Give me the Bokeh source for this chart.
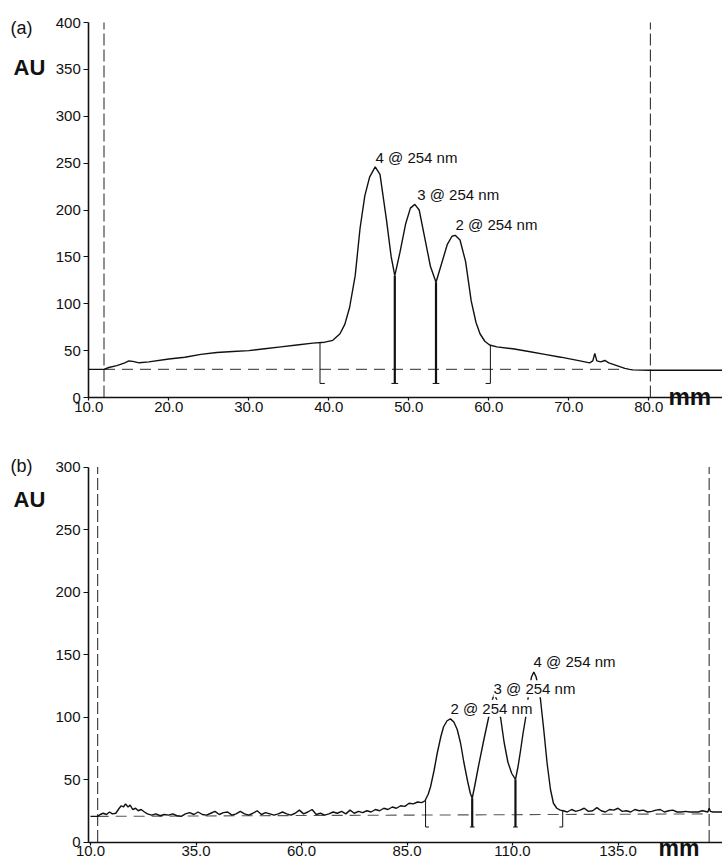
from bokeh.plotting import figure
from bokeh.models import Label, FixedTicker, NumeralTickFormatter, Range1d, LinearAxis
from bokeh.layouts import column
from bokeh.embed import file_html
from bokeh.resources import INLINE

FONT = "Liberation Sans"

# ---------------- Panel (a) data ----------------
a_mm = [10.0, 11.9, 12.5, 13.5, 14.5, 15.0, 15.5, 16.3, 17.5, 20, 22, 24, 26, 28, 30, 32, 34, 36, 38,
        39.5, 40.5, 41.4, 42.0, 42.6, 43.3, 43.9, 44.5, 45.1, 45.8, 46.4, 47.2, 47.8, 48.25, 48.9,
        49.6, 50.2, 50.75, 51.3, 52.0, 52.7, 53.4, 54.0, 54.8, 55.4, 55.8, 56.4, 57.1, 57.8, 58.4,
        58.9, 59.5, 60.1, 61, 63, 65, 67, 69, 71.4, 72.6, 73.0, 73.25, 73.5, 74.0, 74.5, 75, 76, 77,
        77.6, 78, 80, 89.3]
a_au = [30, 30, 32, 34, 37, 39, 38.5, 37, 38, 41, 43, 46, 48, 49, 50, 52, 54, 56, 58,
        59, 61, 68, 78, 96, 130, 180, 215, 235, 246, 238, 190, 150, 130, 155,
        185, 202, 206, 200, 170, 140, 123, 140, 163, 172, 173, 168, 145, 103, 80,
        68, 60, 56, 54, 52, 49, 46, 43, 39, 37, 39, 47, 39, 38, 39.5, 37, 34, 31,
        30, 29.5, 29, 29]
a_xticks = [10, 20, 30, 40, 50, 60, 70, 80]
a_yticks = [0, 50, 100, 150, 200, 250, 300, 350, 400]
a_markers = [11.9, 80.2]          # dashed vertical event lines
a_base_x = [11.9, 77.0]           # dashed baseline
a_base_y = [30, 30]
a_drop_mm = [38.9, 48.25, 53.4, 60.2]
a_drop_top = [59, 130, 123, 55]
a_drop_foot = ["right", "both", "both", "left"]
a_peak_mm = [45.84, 51.05, 55.84]
a_peak_lab_y = [255.7, 216.2, 184.2]
a_peak_text = ["4 @ 254 nm", "3 @ 254 nm", "2 @ 254 nm"]

# ---------------- Panel (b) data ----------------
b_mm = [10, 11.7, 12.3, 13, 13.8, 14.5, 15.2, 16, 16.8, 17.3, 17.8, 18.3, 18.9, 19.4, 20, 20.7, 21.3,
        22, 22.8, 23.5, 24.5, 25.5, 26.5, 27.5, 28.5, 29.5, 30.5, 31.5, 32.5, 33.5, 34.5, 35.5, 36.5,
        37.5, 38.5, 39.5, 40.5, 41.5, 42.5, 43.5, 44.5, 45.5, 46.5, 47.5, 48.5, 49.5, 50.5, 51.5,
        52.5, 53.5, 54.5, 55.5, 56.5, 57.5, 58.5, 59.5, 60.5, 61.5, 62.5, 63.5, 64.5, 65.5, 66.5,
        67.5, 68.5, 69.5, 70.5, 71.5, 72.5, 73.5, 74.5, 75.5, 76.5, 77.5, 78.5, 79.5, 80.5, 81.5,
        82.5, 83.5, 84.5, 85.5, 86.5, 87.5, 88.5, 89.3, 89.4, 90.0, 90.57, 91.4, 92.16, 93.0,
        93.65, 94.5, 95.3, 96.1, 96.9, 97.7, 98.46, 99.4, 100.0, 100.45, 101.0, 101.9, 103.1,
        104.3, 105.0, 105.7, 106.4, 107.2, 108.0, 108.9, 109.8, 110.7, 111.3, 111.9, 112.5,
        113.1, 113.8, 114.5, 115.05, 115.6, 116.1, 116.6, 117.4, 118.2, 119.0, 119.7, 120.5,
        121.3, 122, 123, 124, 125, 126, 127, 128, 129, 130, 131, 132, 133, 134, 135, 136, 137,
        138, 139, 140, 141, 142, 143, 144, 145, 146, 147, 148, 149, 150, 151, 152, 153, 154, 155,
        156.3, 156.6, 156.9, 157.5, 160.5]
b_au = [20.5, 20.5, 22, 23, 22, 24, 22.5, 23, 27, 29, 28, 30.5, 28, 29.5, 26, 27, 25,
        26, 24, 22.5, 21.5, 22.5, 21, 22, 21.5, 22.5, 21, 20.5, 22.5, 23.5, 22, 24, 22,
        21.5, 23, 24.5, 22, 23.5, 24, 21.5, 22.5, 24.5, 22.5, 21.5, 23, 25, 22, 23.5,
        22.5, 21.5, 22.5, 24, 22.5, 21.5, 23, 25.5, 22.5, 24, 26, 22, 23, 21.5, 22.5,
        24, 23, 24.5, 22.5, 25.5, 23, 24.5, 23.5, 25, 24, 26, 25, 27, 26, 28,
        27, 29, 28.5, 31, 30.5, 32, 31.5, 33, 34, 38, 44, 57, 71, 84,
        92, 97, 98.5, 96, 90, 79, 64, 48, 39, 35, 44, 60, 80,
        99, 112, 118, 113, 99, 80, 64, 55, 50, 60, 73, 87,
        99, 118, 132, 136, 132, 124, 115, 90, 63, 42, 31, 27,
        25.5, 25, 24, 26, 24.5, 25.5, 27, 24.5, 25, 27.5, 25, 24, 26, 25.5, 27, 24.5, 25,
        24, 26, 25, 25.5, 24, 24.5, 25.5, 26, 24, 25, 25.5, 24, 24, 24.5, 24, 24, 24, 25,
        24, 27, 24.5, 24, 24]
b_xticks = [10, 35, 60, 85, 110, 135]
b_yticks = [0, 50, 100, 150, 200, 250, 300]
b_markers = [11.7, 156.6]
b_base_x = [11.7, 156.6]
b_base_y = [20.5, 22.5]
b_drop_mm = [89.4, 100.45, 110.7, 121.9]
b_drop_top = [34, 35, 50, 25]
b_drop_foot = ["right", "both", "both", "left"]
b_peak_mm = [95.3, 105.5, 115.0]
b_peak_lab_y = [107, 122.6, 144.4]
b_peak_text = ["2 @ 254 nm", "3 @ 254 nm", "4 @ 254 nm"]


def make_panel(canvas_h, x_left, x_right, y_top, y_bottom, ax_x, xticks, yticks, ymax,
               mm, au, markers, base_x, base_y,
               drop_mm, drop_top, drop_bottom, drop_foot, foot_w,
               peak_mm, peak_y, peak_text, label_bg):
    p = figure(frame_width=722, frame_height=canvas_h,
               x_range=Range1d(x_left, x_right), y_range=Range1d(y_bottom, y_top),
               x_axis_location=None, y_axis_location=None,
               output_backend="svg", toolbar_location=None,
               min_border_left=0, min_border_right=0, min_border_top=0, min_border_bottom=0)
    p.outline_line_color = None
    p.background_fill_color = "white"
    p.border_fill_color = "white"
    p.grid.grid_line_color = None
    p.grid.visible = False

    xa = LinearAxis(fixed_location=0, bounds=(ax_x, x_right),
                    ticker=FixedTicker(ticks=xticks),
                    formatter=NumeralTickFormatter(format="0.0"))
    ya = LinearAxis(fixed_location=ax_x, bounds=(0, ymax), ticker=FixedTicker(ticks=yticks))
    for ax in (xa, ya):
        ax.axis_line_color = "#111111"
        ax.axis_line_width = 1.6
        ax.major_tick_line_color = "#111111"
        ax.major_tick_line_width = 1.2
        ax.minor_tick_line_color = None
        ax.major_tick_in = 0
        ax.major_label_text_font = FONT
        ax.major_label_text_font_size = "15px"
        ax.major_label_text_color = "#111111"
    xa.major_tick_out = 3
    xa.major_label_standoff = 1
    ya.major_tick_out = 5
    ya.major_label_standoff = 3
    p.add_layout(xa, "below")
    p.add_layout(ya, "left")

    # event markers (dashed verticals)
    for m in markers:
        p.line([m, m], [0, ymax], line_color="#333333", line_width=1.1, line_dash="12 4")
    # baseline
    p.line(base_x, base_y, line_color="#555555", line_width=1.1, line_dash="11 7")

    # drop lines
    for x, top, f in zip(drop_mm, drop_top, drop_foot):
        w = 2.2 if f == "both" else 1.0
        p.line([x, x], [drop_bottom, top], line_color="#111111", line_width=w)
        if f == "both":
            fx = [x - foot_w * 0.7, x + foot_w * 0.7]
        elif f == "right":
            fx = [x, x + foot_w]
        else:
            fx = [x - foot_w, x]
        p.line(fx, [drop_bottom, drop_bottom], line_color="#111111", line_width=1.0)

    # chromatogram trace
    p.line(mm, au, line_color="#111111", line_width=1.4)

    for x, y, t in zip(peak_mm, peak_y, peak_text):
        kw = {}
        if label_bg:
            kw = dict(background_fill_color="white", background_fill_alpha=1.0)
        p.add_layout(Label(x=x, y=y, text=t, text_font=FONT, text_font_size="15px",
                           text_color="#111111", text_align="left", text_baseline="alphabetic",
                           **kw))
    return p


def side_label(p, x, y, text, size, bold=False):
    p.add_layout(Label(x=x, y=y, text=text,
                       text_font=FONT, text_font_size=size,
                       text_font_style="bold" if bold else "normal",
                       text_color="#111111", text_baseline="alphabetic", text_align="left"))


# panel (a): axis corner at canvas (88.3, 397), 8 px per mm, 0.9375 px per AU
ax_sc, ay_sc = 8.0, 0.9375
p1 = make_panel(438, 10 - 88.3 / ax_sc, 10 + (722 - 88.3) / ax_sc, 397 / ay_sc, -(438 - 397) / ay_sc,
                10, a_xticks, a_yticks, 400,
                a_mm, a_au, a_markers, a_base_x, a_base_y,
                a_drop_mm, a_drop_top, 15, a_drop_foot, 0.6,
                a_peak_mm, a_peak_lab_y, a_peak_text, False)
side_label(p1, 10 + (10 - 88.3) / ax_sc, (397 - 27) / ay_sc, "(a)", "18px")
side_label(p1, 10 + (13 - 88.3) / ax_sc, (397 - 67) / ay_sc, "AU", "22px", True)
side_label(p1, 10 + (668 - 88.3) / ax_sc, (397 - 396) / ay_sc, "mm", "24px", True)

# panel (b): 10.0 tick at canvas x 90, axis at 88, 0 AU at canvas y 403.5; 4.22 px per mm, 1.25 px per AU
bx_sc, by_sc = 4.22, 1.25
p2 = make_panel(422, 10 - 90 / bx_sc, 10 + (722 - 90) / bx_sc, 403.5 / by_sc, -(422 - 403.5) / by_sc,
                10 - 2 / bx_sc, b_xticks, b_yticks, 300,
                b_mm, b_au, b_markers, b_base_x, b_base_y,
                b_drop_mm, b_drop_top, 12, b_drop_foot, 0.8,
                b_peak_mm, b_peak_lab_y, b_peak_text, True)
side_label(p2, 10 + (10 - 90) / bx_sc, (403.5 - 27) / by_sc, "(b)", "18px")
side_label(p2, 10 + (13 - 90) / bx_sc, (403.5 - 61) / by_sc, "AU", "22px", True)
side_label(p2, 10 + (658 - 90) / bx_sc, (403.5 - 409) / by_sc, "mm", "23px", True)

layout = column(p1, p2, spacing=0)
open("out.html", "w").write(file_html(layout, INLINE))
